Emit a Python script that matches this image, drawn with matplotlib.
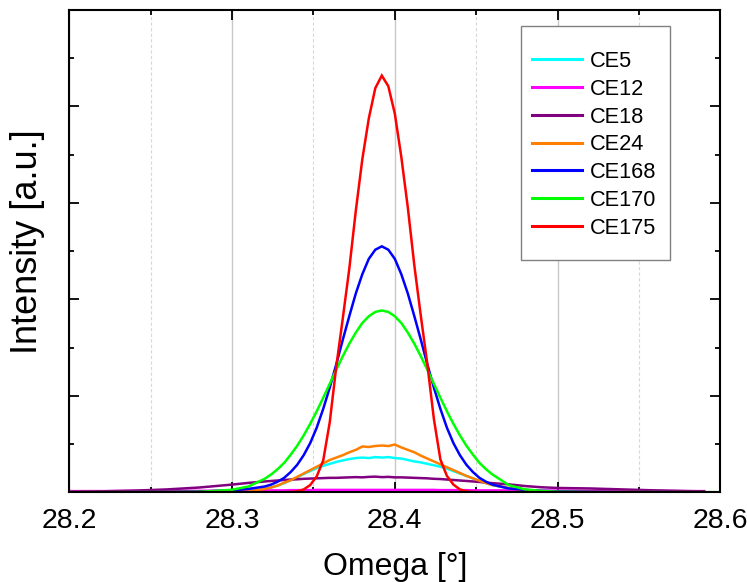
import numpy as np
import matplotlib
matplotlib.use("Agg")
import matplotlib.pyplot as plt
from matplotlib.patches import Rectangle
from matplotlib.ticker import MultipleLocator, NullFormatter

plt.rcParams['font.family'] = ['Liberation Sans', 'DejaVu Sans']

omega = [28.20, 28.22, 28.24, 28.26, 28.28, 28.30, 28.31, 28.32,
         28.324, 28.328, 28.332, 28.336, 28.340, 28.344, 28.348, 28.352, 28.356, 28.360,
         28.364, 28.368, 28.372, 28.376, 28.380, 28.384, 28.388, 28.392, 28.396, 28.400,
         28.404, 28.408, 28.412, 28.416, 28.420, 28.424, 28.428, 28.432, 28.436, 28.440,
         28.444, 28.448, 28.452, 28.456, 28.460,
         28.47, 28.48, 28.49, 28.50, 28.52, 28.54, 28.56, 28.58, 28.59, 28.60]

ce5 = [0.003, 0.003, 0.004, 0.005, 0.006, 0.008, 0.015, 0.07,
       0.10, 0.14, 0.19, 0.25, 0.31, 0.38, 0.44, 0.50, 0.55, 0.59,
       0.63, 0.66, 0.69, 0.71, 0.72, 0.71, 0.73, 0.72, 0.73, 0.71,
       0.70, 0.67, 0.64, 0.62, 0.59, 0.56, 0.53, 0.49, 0.44, 0.39,
       0.34, 0.29, 0.24, 0.19, 0.15,
       0.08, 0.035, 0.015, 0.01, 0.006, 0.005, 0.004, 0.003, 0.003, np.nan]

ce12 = [0.025, 0.025, 0.03, 0.03, 0.03, 0.035, 0.035, 0.04,
        0.04, 0.04, 0.04, 0.045, 0.045, 0.045, 0.045, 0.05, 0.05, 0.05,
        0.05, 0.05, 0.05, 0.05, 0.05, 0.05, 0.05, 0.05, 0.05, 0.05,
        0.05, 0.05, 0.05, 0.05, 0.05, 0.05, 0.045, 0.045, 0.045, 0.045,
        0.045, 0.04, 0.04, 0.04, 0.04,
        0.04, 0.035, 0.035, 0.035, 0.03, 0.03, 0.03, 0.025, 0.025, np.nan]

ce18 = [0.01, 0.02, 0.035, 0.06, 0.10, 0.16, 0.195, 0.225,
        0.235, 0.245, 0.255, 0.265, 0.27, 0.28, 0.285, 0.29, 0.295, 0.30,
        0.30, 0.305, 0.31, 0.315, 0.31, 0.32, 0.325, 0.315, 0.32, 0.31,
        0.31, 0.305, 0.30, 0.295, 0.29, 0.28, 0.275, 0.265, 0.255, 0.245,
        0.235, 0.225, 0.215, 0.20, 0.19,
        0.165, 0.13, 0.105, 0.09, 0.08, 0.06, 0.04, 0.025, 0.02, np.nan]

ce24 = [0.003, 0.003, 0.004, 0.005, 0.006, 0.008, 0.015, 0.07,
        0.10, 0.14, 0.20, 0.25, 0.32, 0.39, 0.46, 0.53, 0.60, 0.67,
        0.72, 0.77, 0.83, 0.88, 0.95, 0.94, 0.96, 0.97, 0.96, 0.99,
        0.93, 0.88, 0.83, 0.76, 0.70, 0.64, 0.58, 0.52, 0.46, 0.40,
        0.34, 0.29, 0.24, 0.19, 0.15,
        0.09, 0.04, 0.015, 0.01, 0.006, 0.005, 0.004, 0.003, 0.003, np.nan]

ce168 = [0.002, 0.003, 0.005, 0.008, 0.015, 0.04, 0.07, 0.12,
         0.16, 0.22, 0.30, 0.42, 0.57, 0.77, 1.02, 1.34, 1.73, 2.17,
         2.65, 3.16, 3.65, 4.12, 4.52, 4.84, 5.03, 5.10, 5.03, 4.84,
         4.52, 4.12, 3.65, 3.16, 2.65, 2.17, 1.73, 1.34, 1.02, 0.77,
         0.57, 0.42, 0.30, 0.22, 0.16,
         0.08, 0.05, 0.03, 0.02, 0.01, 0.005, 0.005, 0.004, 0.004, np.nan]

ce170 = [0.003, 0.003, 0.003, 0.004, 0.01, 0.053, 0.12, 0.28,
         0.37, 0.48, 0.61, 0.78, 0.965, 1.18, 1.42, 1.68, 1.96, 2.25,
         2.54, 2.82, 3.08, 3.31, 3.51, 3.65, 3.74, 3.77, 3.74, 3.65,
         3.51, 3.31, 3.08, 2.82, 2.54, 2.25, 1.96, 1.68, 1.42, 1.18,
         0.965, 0.78, 0.61, 0.48, 0.37,
         0.15, 0.06, 0.03, 0.012, 0.004, 0.003, 0.003, 0.003, 0.003, 0.003]

ce175 = [0.003, 0.003, 0.003, 0.003, 0.003, 0.003, 0.003, 0.003,
         0.003, 0.003, 0.004, 0.008, 0.02, 0.06, 0.15, 0.33, 0.66, 1.45,
         2.60, 3.60, 4.63, 5.83, 6.90, 7.75, 8.38, 8.64, 8.42, 7.85,
         6.95, 5.90, 4.70, 3.65, 2.65, 1.52, 0.68, 0.34, 0.16, 0.06,
         0.02, 0.007, 0.003, 0.003, 0.003,
         0.003, 0.003, 0.003, 0.003, 0.003, 0.003, 0.003, 0.003, 0.003, np.nan]

names = ['CE5', 'CE12', 'CE18', 'CE24', 'CE168', 'CE170', 'CE175']
series = [ce5, ce12, ce18, ce24, ce168, ce170, ce175]
colors = ['#00FFFF', '#FF00FF', '#800080', '#FF8000', '#0000FF', '#00FF00', '#FF0000']

fig = plt.figure(figsize=(7.47, 5.82), dpi=100)
ax = fig.add_axes([0.0928, 0.1541, 0.8715, 0.8287])

x = np.array(omega)
for name, ys, c in zip(names, series, colors):
    ax.plot(x, np.array(ys, dtype=float), color=c, lw=1.8, label=name, solid_joinstyle='miter')

ax.set_xlim(28.2, 28.6)
ax.set_ylim(0, 10)
ax.xaxis.set_major_locator(MultipleLocator(0.1))
ax.xaxis.set_minor_locator(MultipleLocator(0.05))
ax.yaxis.set_major_locator(MultipleLocator(2))
ax.yaxis.set_minor_locator(MultipleLocator(1))
ax.yaxis.set_major_formatter(NullFormatter())
ax.set_xticks([28.2, 28.3, 28.4, 28.5, 28.6])
ax.set_xticklabels(['28.2', '28.3', '28.4', '28.5', '28.6'])

ax.grid(True, axis='x', which='major', color='#c8c8c8', lw=1.0, ls='-')
ax.grid(True, axis='x', which='minor', color='#d8d8d8', lw=0.8, ls=(0, (3, 2)))
ax.set_axisbelow(True)

ax.tick_params(which='both', direction='in', top=True, right=True, width=1.3, color='black')
ax.tick_params(which='major', length=7.5, labelsize=20.5, pad=11)
ax.tick_params(which='minor', length=3.8)
for s in ax.spines.values():
    s.set_linewidth(1.5)

ax.set_xlabel('Omega [°]', fontsize=23, labelpad=13)
ax.set_ylabel('Intensity [a.u.]', fontsize=26)
ax.yaxis.set_label_coords(-0.037, 0.52)

# legend frame
W, H = 747.0, 582.0
rect = Rectangle((520.7 / W, 1 - 260.0 / H), 149.3 / W, (260.0 - 25.7) / H,
                 transform=fig.transFigure, facecolor='white', edgecolor='#808080',
                 lw=1.0, zorder=4, clip_on=False)
ax.add_patch(rect)
leg = ax.legend(loc='upper left', bbox_to_anchor=(531.7 / W, 1 - 51.0 / H),
                bbox_transform=fig.transFigure, frameon=False, fontsize=15.7,
                handlelength=2.3, handletextpad=0.38, labelspacing=0.31,
                borderpad=0, borderaxespad=0)
for l in leg.get_lines():
    l.set_linewidth(2.2)
leg.set_zorder(5)

fig.savefig('out.png', dpi=100)
